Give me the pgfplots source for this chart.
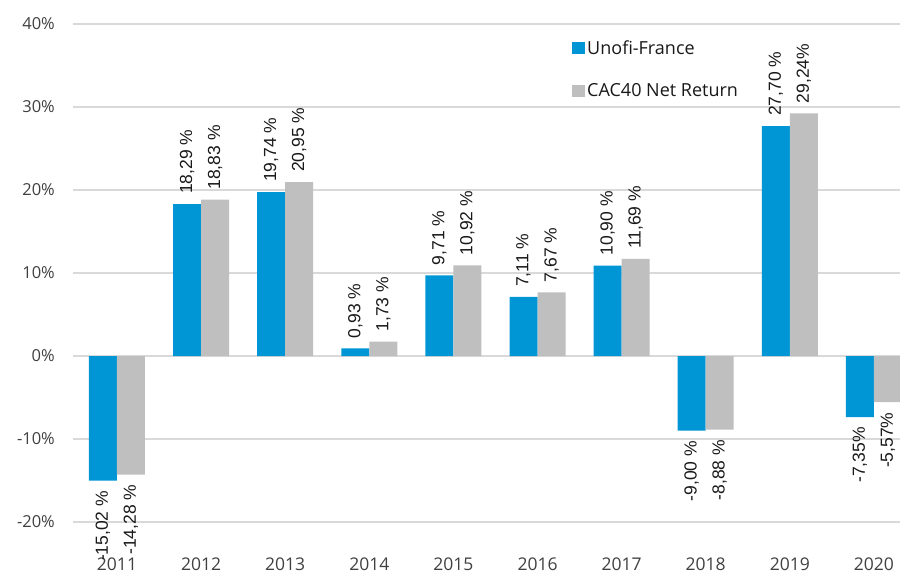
\documentclass[border=0pt]{standalone}
\usepackage{fontspec}
\setmainfont{Open Sans}
\newfontfamily\labfont{Liberation Sans}
\usepackage{pgfplots}
\pgfplotsset{compat=1.18}
\definecolor{cblue}{HTML}{0096D6}
\definecolor{cgrey}{HTML}{BFBFBF}
\definecolor{cgrid}{HTML}{D9D9D9}
\definecolor{ctick}{HTML}{404040}
\begin{document}
\begin{tikzpicture}
\useasboundingbox (-73pt,-52pt) rectangle (827pt,522pt);
\begin{axis}[
  at={(0pt,0pt)}, anchor=south west,
  scale only axis, width=827pt, height=498pt,
  xmin=-0.523, xmax=9.31, ymin=-20, ymax=40,
  clip=false,
  axis line style={draw=none}, major tick length=0pt,
  ytick={-20,-10,0,10,20,30,40},
  yticklabels={-20\%,-10\%,0\%,10\%,20\%,30\%,40\%},
  ymajorgrids, grid style={cgrid, line width=1.2pt},
  xtick={0,...,9},
  xticklabels={2011,2012,2013,2014,2015,2016,2017,2018,2019,2020},
  tick label style={text=ctick},
  x tick label style={anchor=north, yshift=-32pt, font=\fontsize{17.5}{20}\selectfont},
  y tick label style={anchor=east, xshift=-14.7pt, font=\fontsize{16.5}{19}\selectfont},
  ybar=0pt, bar width=28pt,
  nodes near coords, point meta=explicit symbolic,
  visualization depends on={rawy \as \rawy},
  every node near coord/.append style={font=\labfont\fontsize{17.5}{20}\selectfont, rotate=90, inner xsep=10pt, inner ysep=0pt, text=black!90},
  every node near coord/.append code={\ifdim\rawy pt<0pt \pgfkeysalso{anchor=east}\else\pgfkeysalso{anchor=west}\fi},
  legend style={at={(0.601,0.975)}, anchor=north west, draw=none, fill=white, row sep=24pt, font=\fontsize{18}{21}\selectfont, inner sep=2pt, cells={anchor=west}, text=black!90},
  legend image code/.code={\fill[#1] (0pt,-6pt) rectangle (13pt,6pt);},
]
\addplot[fill=cblue, draw=none] coordinates {
 (0,-15.02) [-15,02 \%]
 (1,18.29) [18,29 \%]
 (2,19.74) [19,74 \%]
 (3,0.93) [0,93 \%]
 (4,9.71) [9,71 \%]
 (5,7.11) [7,11 \%]
 (6,10.90) [10,90 \%]
 (7,-9.00) [-9,00 \%]
 (8,27.70) [27,70 \%]
 (9,-7.35) [-7,35\%]
};
\addlegendentry{Unofi-France}
\addplot[fill=cgrey, draw=none] coordinates {
 (0,-14.28) [-14,28 \%]
 (1,18.83) [18,83 \%]
 (2,20.95) [20,95 \%]
 (3,1.73) [1,73 \%]
 (4,10.92) [10,92 \%]
 (5,7.67) [7,67 \%]
 (6,11.69) [11,69 \%]
 (7,-8.88) [-8,88 \%]
 (8,29.24) [29,24\%]
 (9,-5.57) [-5,57\%]
};
\addlegendentry{CAC40 Net Return}
\end{axis}
\end{tikzpicture}
\end{document}
